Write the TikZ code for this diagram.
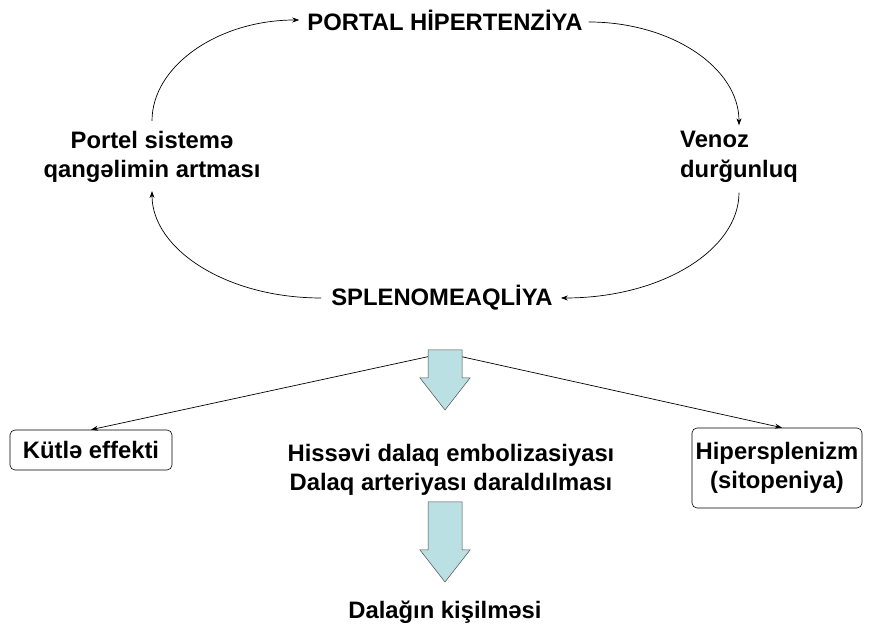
\documentclass[tikz,border=0pt]{standalone}
\usepackage{fontspec}
\setmainfont{Liberation Sans}
\usetikzlibrary{arrows.meta}
\definecolor{blockblue}{RGB}{187,224,228}
\begin{document}
\begin{tikzpicture}[x=1pt,y=1pt,
  lbl/.style={font=\bfseries\fontsize{23.8}{29.5}\selectfont, inner sep=0pt, align=center},
  rbox/.style={lbl, draw, rounded corners=5pt, line width=0.6pt},
  arr/.style={line width=0.7pt, -{Stealth[length=7pt,width=5pt]}},
  blk/.style={fill=blockblue, draw=black!70, line width=0.5pt}]
\useasboundingbox (0,0) rectangle (876,628);
\node[lbl] (ph) at (445,608) {PORTAL HİPERTENZİYA};
\node[lbl] (pq) at (152,471) {Portel sistemə\\qangəlimin artması};
\node[lbl, align=left] (vd) at (739,471) {Venoz\\durğunluq};
\node[lbl] (sp) at (442,330) {SPLENOMEAQLİYA};
\node[rbox, minimum width=162pt, minimum height=40pt] (ke) at (91,178) {Kütlə effekti};
\node[rbox, minimum width=170pt, minimum height=80pt] (hs) at (777,160) {Hipersplenizm\\(sitopeniya)};
\node[lbl] (hd) at (451,158) {Hissəvi dalaq embolizasiyası\\Dalaq arteriyası daraldılması};
\node[lbl] (dk) at (445,16) {Dalağın kişilməsi};
% cycle arcs
\draw[arr] ([yshift=10pt]pq.north) .. controls +(0,55) and +(-81,0) .. ([xshift=-8pt]ph.west);
\draw[arr] ([xshift=6pt,yshift=-2pt]ph.east) .. controls +(82,0) and +(0,58) .. ([yshift=6pt]vd.north);
\draw[arr] ([xshift=-10pt]sp.west) .. controls +(-95,0) and +(0,-58) .. ([yshift=-8pt]pq.south);
\draw[arr] ([yshift=-10pt]vd.south) .. controls +(0,-57) and +(101,0) .. ([xshift=8pt]sp.east);
% branches
\coordinate (apex) at (445,275);
\draw[arr] (apex) -- (ke.north);
\draw[arr] (apex) -- ([xshift=5pt]hs.north);
% block arrows
\draw[blk] (428,278) -- (462,278) -- (462,250) -- (470,250) -- (445,218) -- (420,250) -- (428,250) -- cycle;
\draw[blk] (428,126) -- (462,126) -- (462,78) -- (470,78) -- (445,46) -- (420,78) -- (428,78) -- cycle;
\end{tikzpicture}
\end{document}
